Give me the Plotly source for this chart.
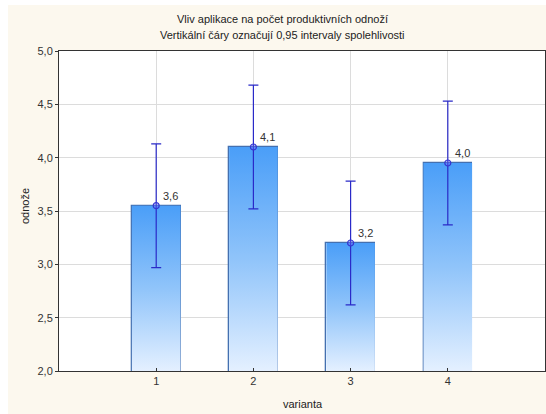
from decimal import Decimal, ROUND_HALF_UP
import plotly.graph_objects as go

# Group means of productive tillers per variant with 95% CI half-widths
varianta = [1, 2, 3, 4]
prumer = [3.55, 4.10, 3.20, 3.95]
ci95 = [0.58, 0.58, 0.58, 0.58]

titulek = ["Vliv aplikace na počet produktivních odnoží",
           "Vertikální čáry označují 0,95 intervaly spolehlivosti"]
osa_x = "varianta"
osa_y = "odnože"
y_ticks = [2.0, 2.5, 3.0, 3.5, 4.0, 4.5, 5.0]

BAR_W = 0.5
BASE = 2.0
FONT = "Arial, Liberation Sans, sans-serif"
CREAM = "#fcf8ee"


def fmt1(v):
    d = Decimal(str(v)).quantize(Decimal("0.1"), rounding=ROUND_HALF_UP)
    return str(d).replace(".", ",")


fig = go.Figure()

# gradient fill of each bar (light at the bottom, saturated blue at the top)
for c, m in zip(varianta, prumer):
    xs = [c - BAR_W / 2, c + BAR_W / 2, c + BAR_W / 2, c - BAR_W / 2, c - BAR_W / 2]
    ys = [BASE, BASE, m, m, BASE]
    fig.add_trace(go.Scatter(
        x=xs, y=ys, mode="lines", fill="toself",
        line=dict(width=0, color="rgba(0,0,0,0)"),
        fillgradient=dict(type="vertical",
                          colorscale=[[0, "#e4f0ff"], [0.5, "#90c4fa"], [1, "#4a9ef8"]]),
        hoverinfo="skip", showlegend=False,
    ))

# bar outlines
fig.add_trace(go.Bar(
    x=varianta, y=prumer, width=BAR_W,
    marker=dict(color="rgba(0,0,0,0)", line=dict(color="#4470b0", width=1.3)),
    showlegend=False,
))

# means with confidence intervals
fig.add_trace(go.Scatter(
    x=varianta, y=prumer, mode="markers",
    marker=dict(symbol="circle", size=6, color="rgba(110,110,255,0.35)",
                line=dict(color="#3535d0", width=1.2)),
    error_y=dict(type="data", array=ci95, color="#2a2ac8", thickness=1.2, width=5),
    showlegend=False,
))

annotations = []
for c, m in zip(varianta, prumer):
    annotations.append(dict(
        x=c, y=m, xref="x", yref="y", text=fmt1(m), showarrow=False,
        xanchor="left", yanchor="middle", xshift=5, yshift=10,
        font=dict(family=FONT, size=11, color="#333333"),
    ))

# layout geometry in pixels (plot area 59..545 x 51..371)
L, T, PW, PH = 59, 51, 486, 320


def px_x(p):
    return (p - L) / PW


def px_y(p):
    return (T + PH - p) / PH


for i, line in enumerate(titulek):
    annotations.append(dict(
        x=px_x(282), y=px_y(19 + 16 * i), xref="paper", yref="paper",
        text=line, showarrow=False, xanchor="center", yanchor="middle",
        font=dict(family=FONT, size=11, color="#222222"),
    ))

annotations.append(dict(
    x=px_x(303), y=px_y(404), xref="paper", yref="paper", text=osa_x,
    showarrow=False, xanchor="center", yanchor="middle",
    font=dict(family=FONT, size=11, color="#222222"),
))
annotations.append(dict(
    x=px_x(25), y=px_y(206), xref="paper", yref="paper", text=osa_y,
    showarrow=False, xanchor="center", yanchor="middle", textangle=-90,
    font=dict(family=FONT, size=11, color="#222222"),
))

shapes = [
    # white strips along the left and top edges
    dict(type="rect", xref="paper", yref="paper", x0=px_x(-2), x1=px_x(8),
         y0=px_y(420), y1=px_y(-2), fillcolor="white", line=dict(width=0), layer="below"),
    dict(type="rect", xref="paper", yref="paper", x0=px_x(-2), x1=px_x(550),
         y0=px_y(5), y1=px_y(-2), fillcolor="white", line=dict(width=0), layer="below"),
]

fig.update_layout(
    width=546, height=414,
    margin=dict(l=L, r=546 - L - PW, t=T, b=414 - T - PH, pad=0),
    paper_bgcolor=CREAM, plot_bgcolor="white",
    separators=", ",
    font=dict(family=FONT, size=11, color="#333333"),
    annotations=annotations, shapes=shapes,
    bargap=0,
    xaxis=dict(range=[0, 5], tickvals=varianta, ticktext=[str(v) for v in varianta],
               ticks="inside", ticklen=3, tickcolor="#333333",
               showgrid=True, gridcolor="#dcdcdc", gridwidth=1,
               showline=True, linecolor="#333333", linewidth=1, mirror=True,
               zeroline=False, fixedrange=True),
    yaxis=dict(range=[2, 5], tickvals=y_ticks, tickformat=".1f",
               ticks="outside", ticklen=3, tickcolor="#333333",
               showgrid=True, gridcolor="#dcdcdc", gridwidth=1,
               showline=True, linecolor="#333333", linewidth=1, mirror=True,
               zeroline=False, fixedrange=True),
)

fig.write_html("out.html")
